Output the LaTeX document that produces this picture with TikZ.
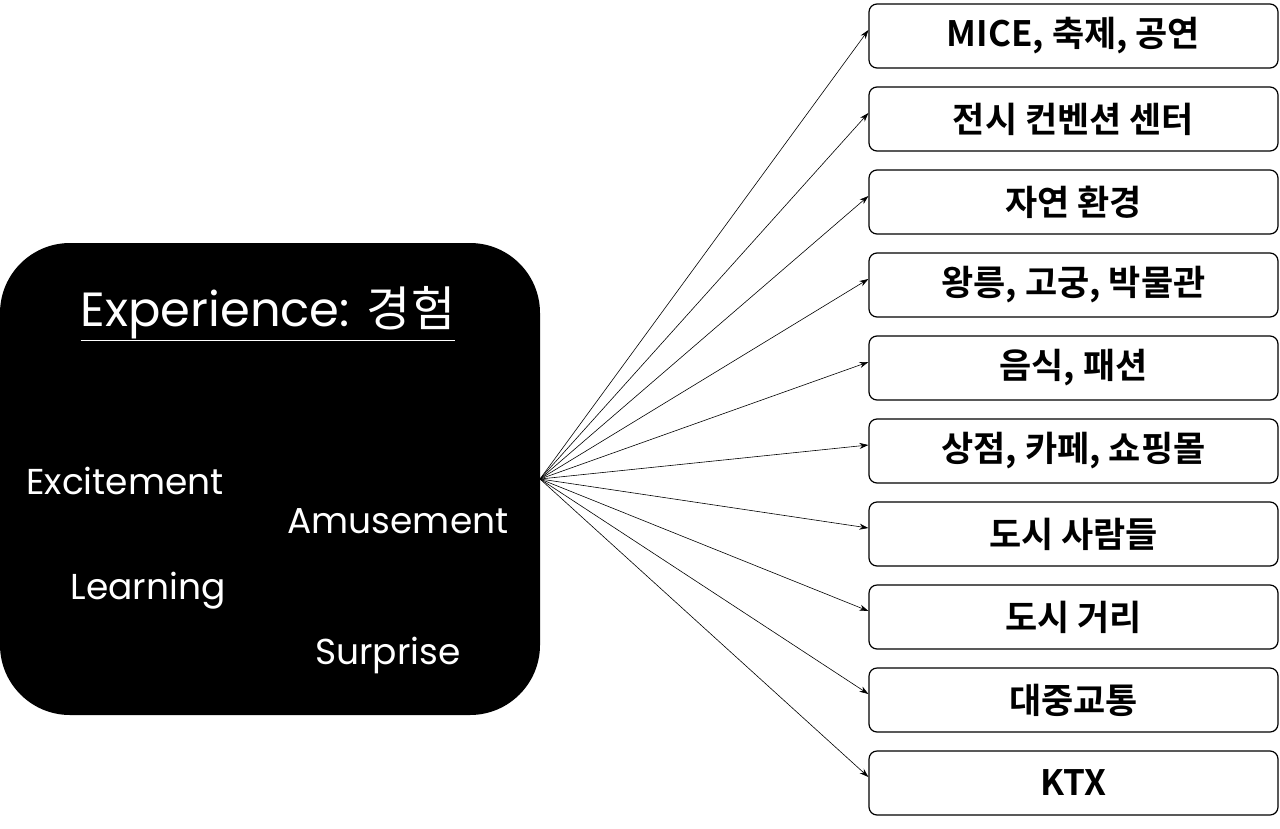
\documentclass[tikz,border=0pt]{standalone}
\usepackage{fontspec}
\setmainfont{Poppins}
\newfontfamily\kr{Noto Sans CJK KR}
\newfontfamily\krb{Noto Sans CJK KR Bold}
\usetikzlibrary{arrows.meta}
\begin{document}
\begin{tikzpicture}[x=1pt,y=-1pt,
  rbox/.style={draw=black,line width=1.2pt,rounded corners=8pt,minimum width=409pt,minimum height=64pt,fill=white,font=\krb\fontsize{35}{38}\selectfont},
  wtext/.style={text=white,font=\fontsize{36}{40}\selectfont},
  conn/.style={-{Stealth[length=9pt,width=6pt]},line width=0.6pt}]
\useasboundingbox (0,0) rectangle (1280,828);
\fill[white] (0,0) rectangle (1280,828);
\node[fill=black,rounded corners=70pt,minimum width=540pt,minimum height=472pt,inner sep=0pt] (exp) at (270,479) {};
\coordinate (src) at (540,479);
\node[wtext,font=\fontsize{48}{52}\selectfont] (title) at (268,314) {\underline{Experience: {\kr 경험}}};
\node[wtext] (e1) at (125,481) {Excitement};
\node[wtext] (e2) at (398,521) {Amusement};
\node[wtext] (e3) at (148,591) {Learning};
\node[wtext] (e4) at (388,655) {Surprise};
\foreach \i/\t in {0/{MICE, 축제, 공연},1/{전시 컨벤션 센터},2/{자연 환경},3/{왕릉, 고궁, 박물관},4/{음식, 패션},5/{상점, 카페, 쇼핑몰},6/{도시 사람들},7/{도시 거리},8/{대중교통},9/{KTX}}{
  \node[rbox] (b\i) at (1073.5,{36+83*\i}) {\t};
  \draw[conn] (src) -- ([yshift=6pt]b\i.west);
}
\end{tikzpicture}
\end{document}
